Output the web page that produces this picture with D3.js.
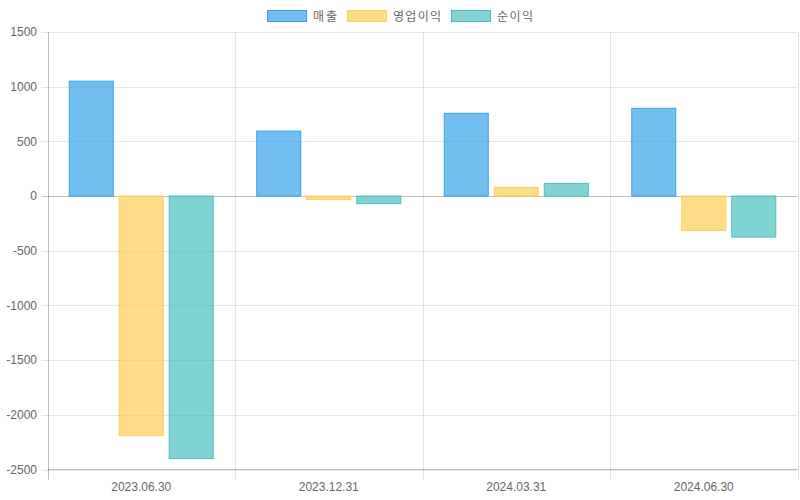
<!DOCTYPE html>
<html><head><meta charset="utf-8">
<script src="https://cdn.jsdelivr.net/npm/d3@7"></script>
<style>body{margin:0;background:#fff}svg{display:block}</style>
</head><body><svg id="c" width="800" height="500"></svg>
<script>
const categories = ["2023.06.30","2023.12.31","2024.03.31","2024.06.30"];
const seriesNames = ["매출","영업이익","순이익"];
const sales = [1050, 594, 756, 802];
const opProfit = [-2190, -30, 80, -314];
const netProfit = [-2400, -70, 116, -375];
const yTicks = [1500,1000,500,0,-500,-1000,-1500,-2000,-2500];

const seriesValues = [sales, opProfit, netProfit];
const fills = ["rgba(54,162,235,0.7)","rgba(255,205,86,0.7)","rgba(75,192,192,0.7)"];
const strokes = ["rgb(54,162,235)","rgb(255,205,86)","rgb(75,192,192)"];
const font = "'Liberation Sans','Noto Sans CJK KR',Arial,sans-serif";

const svg = d3.select("#c");
const L = 47.5, R = 797.5, T = 32, B = 469.5;
const x = d3.scaleBand().domain(categories).range([L, R]).paddingInner(0).paddingOuter(0);
const y = d3.scaleLinear().domain([-2500, 1500]).range([B, T]);
const inner = d3.scaleBand().domain(d3.range(3)).range([0, x.bandwidth()*0.8]).paddingInner(0.1).paddingOuter(0.05);

// horizontal grid
svg.append("g").selectAll("line").data(yTicks).join("line")
  .attr("x1", L-6).attr("x2", R)
  .attr("y1", d => Math.round(y(d))+0.5).attr("y2", d => Math.round(y(d))+0.5)
  .attr("stroke", d => d===0 ? "rgba(0,0,0,0.25)" : "rgba(0,0,0,0.1)");
// vertical grid at category boundaries
const bounds = categories.map(c => x(c)).concat([R]);
svg.append("g").selectAll("line").data(bounds).join("line")
  .attr("x1", d => Math.round(d)+0.5).attr("x2", d => Math.round(d)+0.5)
  .attr("y1", T).attr("y2", B+10)
  .attr("stroke", (d,i) => i===0 ? "rgba(0,0,0,0.25)" : "rgba(0,0,0,0.1)");
// bottom axis line
svg.append("line").attr("x1", L).attr("x2", R).attr("y1", B).attr("y2", B).attr("stroke","rgba(0,0,0,0.25)");

// bars
const data = [];
categories.forEach((c,i) => seriesValues.forEach((s,j) => data.push({c, j, v: s[i]})));
const off = x.bandwidth()*0.1;
svg.append("g").selectAll("rect").data(data).join("rect")
  .attr("x", d => x(d.c) + off + inner(d.j) + 0.5)
  .attr("width", inner.bandwidth() - 1)
  .attr("y", d => Math.min(y(d.v), y(0)))
  .attr("height", d => Math.abs(y(d.v) - y(0)))
  .attr("fill", d => fills[d.j]).attr("stroke", d => strokes[d.j]).attr("stroke-width", 1);

// y labels
svg.append("g").selectAll("text").data(yTicks).join("text")
  .attr("x", 37).attr("y", d => y(d)).attr("dy","0.35em").attr("text-anchor","end")
  .attr("font-family", font).attr("font-size", 12).attr("fill","#666").text(d => d);
// x labels
svg.append("g").selectAll("text").data(categories).join("text")
  .attr("x", d => x(d) + x.bandwidth()/2).attr("y", 491).attr("text-anchor","middle")
  .attr("font-family", font).attr("font-size", 12).attr("fill","#666").text(d => d);

// legend
const lg = svg.append("g");
let lx = 267;
seriesNames.forEach((n,j) => {
  lg.append("rect").attr("x", lx+0.5).attr("y", 10.5).attr("width", 39).attr("height", 11)
    .attr("fill", fills[j]).attr("stroke", strokes[j]);
  const w = n.length * 12;
  lg.append("text").attr("x", lx+46).attr("y", 20.5).attr("font-family", "'Noto Sans CJK KR',sans-serif")
    .attr("font-size", 12).attr("fill","#666")
    .attr("textLength", w).attr("lengthAdjust","spacing").text(n);
  lx += 46 + w + 10;
});
</script></body></html>
